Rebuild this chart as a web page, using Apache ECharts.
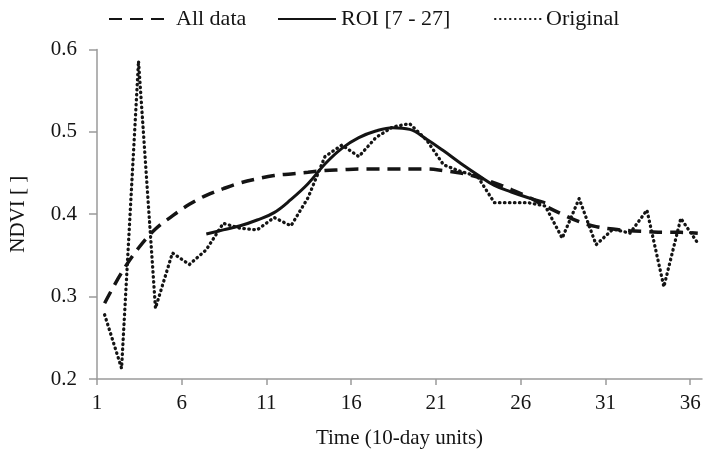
<!DOCTYPE html>
<html>
<head>
<meta charset="utf-8">
<script src="https://cdn.jsdelivr.net/npm/echarts@6/dist/echarts.min.js"></script>
<style>
html,body{margin:0;padding:0;background:#fff;}
#chart{width:703px;height:449px;}
</style>
</head>
<body>
<div id="chart"></div>
<script>
// Time positions (10-day units) as plotted
var timeVals = [1.45,2.45,3.45,4.45,5.45,6.45,7.45,8.45,9.45,10.45,11.45,12.45,13.45,14.45,15.45,16.45,17.45,18.45,19.45,20.45,21.45,22.45,23.45,24.45,25.45,26.45,27.45,28.45,29.45,30.45,31.45,32.45,33.45,34.45,35.45,36.45];
var originalVals = [0.278,0.213,0.586,0.286,0.353,0.339,0.357,0.389,0.383,0.381,0.396,0.386,0.420,0.470,0.484,0.470,0.493,0.506,0.510,0.490,0.460,0.452,0.446,0.414,0.414,0.414,0.410,0.371,0.419,0.363,0.382,0.377,0.405,0.312,0.395,0.365];
var allDataVals = [0.292,0.329,0.359,0.382,0.398,0.412,0.423,0.431,0.438,0.443,0.447,0.449,0.451,0.453,0.454,0.455,0.455,0.455,0.455,0.455,0.453,0.450,0.445,0.438,0.430,0.421,0.410,0.400,0.391,0.385,0.382,0.380,0.379,0.378,0.378,0.377];
var roiTime = [7.45,8.45,9.45,10.45,11.45,12.45,13.45,14.45,15.45,16.45,17.45,18.45,19.45,20.45,21.45,22.45,23.45,24.45,25.45,26.45,27.45];
var roiVals = [0.376,0.381,0.386,0.393,0.402,0.418,0.437,0.461,0.480,0.493,0.501,0.505,0.503,0.491,0.477,0.462,0.448,0.435,0.427,0.420,0.414];
var xTickLabels = [1,6,11,16,21,26,31,36];
var yTickLabels = [0.2,0.3,0.4,0.5,0.6];

function zip(xs, ys){ return xs.map(function(x,i){ return [x, ys[i]]; }); }

var FONT = 'Liberation Serif';
var INK = '#141414';
var AXIS = '#9a9a9a';
var noSym = {opacity: 0};

var chart = echarts.init(document.getElementById('chart'), null, {renderer:'canvas'});
chart.setOption({
  animation: false,
  backgroundColor: '#fff',
  textStyle: {fontFamily: FONT},
  grid: {left: 97, right: 1, top: 49.5, bottom: 70, containLabel: false, outerBoundsMode: 'none'},
  legend: [
    {left: 103, top: 3, itemWidth: 62, itemHeight: 14, data: ['All data'], itemStyle: noSym,
     textStyle: {fontFamily: FONT, fontSize: 22, color: INK}},
    {left: 272, top: 3, itemWidth: 58, itemHeight: 14, data: ['ROI [7 - 27]'], itemStyle: noSym,
     textStyle: {fontFamily: FONT, fontSize: 22, color: INK}},
    {left: 489, top: 3, itemWidth: 46, itemHeight: 14, data: ['Original'], itemStyle: noSym,
     textStyle: {fontFamily: FONT, fontSize: 22, color: INK}}
  ],
  xAxis: {
    type: 'value', min: 1, max: 36.7, interval: 5,
    name: 'Time (10-day units)', nameLocation: 'middle', nameGap: 49,
    nameTextStyle: {fontFamily: FONT, fontSize: 21, color: INK},
    axisLine: {show: true, lineStyle: {color: AXIS, width: 1.5}},
    axisTick: {show: true, inside: false, length: 6, lineStyle: {color: AXIS, width: 1.5}, customValues: xTickLabels},
    axisLabel: {fontFamily: FONT, fontSize: 21, color: INK, margin: 14, customValues: xTickLabels},
    splitLine: {show: false}
  },
  yAxis: {
    type: 'value', min: 0.2, max: 0.6, interval: 0.1,
    name: 'NDVI [ ]', nameLocation: 'middle', nameGap: 68, nameRotate: 90,
    nameTextStyle: {fontFamily: FONT, fontSize: 21, color: INK},
    axisLine: {show: true, lineStyle: {color: AXIS, width: 1.5}},
    axisTick: {show: true, inside: false, length: 8, lineStyle: {color: AXIS, width: 1.5}},
    axisLabel: {fontFamily: FONT, fontSize: 21, color: INK, margin: 20,
      customValues: yTickLabels, formatter: function(v){ return v.toFixed(1); }},
    splitLine: {show: false}
  },
  series: [
    {name: 'Original', type: 'line', data: zip(timeVals, originalVals), showSymbol: false, symbol: 'none',
     lineStyle: {color: INK, width: 3.3, type: [0.5, 4.5], cap: 'round', join: 'round'}, itemStyle: {color: INK}, z: 2},
    {name: 'ROI [7 - 27]', type: 'line', data: zip(roiTime, roiVals), showSymbol: false, symbol: 'none', smooth: 0.4,
     lineStyle: {color: INK, width: 3, type: 'solid'}, itemStyle: {color: INK}, z: 3},
    {name: 'All data', type: 'line', data: zip(timeVals, allDataVals), showSymbol: false, symbol: 'none', smooth: 0.4,
     lineStyle: {color: INK, width: 3.5, type: [13, 8]}, itemStyle: {color: INK}, z: 4}
  ]
});
</script>
</body>
</html>
